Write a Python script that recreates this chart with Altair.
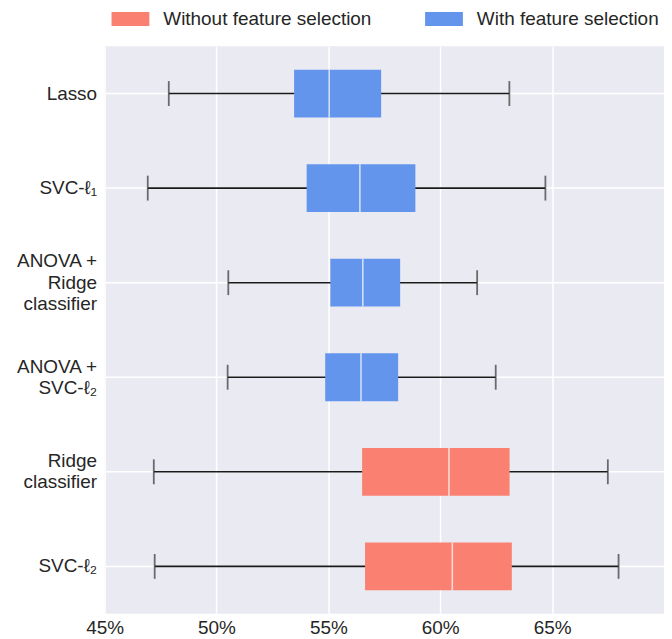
import altair as alt
import pandas as pd

methods = ["Lasso", "SVC-ℓ₁", "ANOVA +|Ridge|classifier", "ANOVA +|SVC-ℓ₂", "Ridge|classifier", "SVC-ℓ₂"]
groups = ["With feature selection"] * 4 + ["Without feature selection"] * 2
low = [47.87, 46.93, 50.53, 50.50, 47.20, 47.24]
q1 = [53.47, 54.03, 55.09, 54.86, 56.51, 56.64]
median = [55.04, 56.41, 56.54, 56.46, 60.39, 60.54]
q3 = [57.36, 58.89, 58.21, 58.12, 63.10, 63.20]
high = [63.09, 64.70, 61.65, 62.48, 67.49, 67.97]
x_ticks = [45, 50, 55, 60, 65]
legend_order = ["Without feature selection", "With feature selection"]
colors = ["#FA8072", "#6495ED"]

df = pd.DataFrame({"method": methods, "group": groups, "low": low, "q1": q1,
                   "median": median, "q3": q3, "high": high})

FONT = "Liberation Sans"
TXT = "#262626"

xscale = alt.Scale(domain=[45, 70], nice=False, zero=False)
yenc = alt.Y("method:N", sort=methods, scale=alt.Scale(paddingInner=0, paddingOuter=0),
             axis=alt.Axis(title=None, labelExpr="split(datum.label, '|')",
                           labelLineHeight=21.5, labelFontSize=19, labelPadding=8,
                           labelOffset={"expr": "-(length(split(datum.value, '|')) - 1) * 10.75"},
                           labelColor=TXT, labelFont=FONT, ticks=False, domain=False,
                           grid=True, gridColor="white", gridWidth=1.5, labelLimit=200))
xaxis = alt.Axis(title=None, values=x_ticks, labelExpr="datum.value + '%'",
                 labelFontSize=19, labelFont=FONT, labelColor=TXT, labelPadding=5,
                 labelFlush=False, labelBound=False, labelOverlap=False,
                 ticks=False, domain=False, grid=True, gridColor="white", gridWidth=1.5)

base = alt.Chart(df)

whisker = base.mark_rule(color="#1a1a1a", strokeWidth=1.6).encode(
    x=alt.X("low:Q", scale=xscale, axis=xaxis), x2="high:Q", y=yenc)

caps_lo = base.mark_tick(color="#333333", thickness=1.8, size=25, orient="vertical").encode(
    x=alt.X("low:Q", scale=xscale), y=alt.Y("method:N", sort=methods))
caps_hi = base.mark_tick(color="#333333", thickness=1.8, size=25, orient="vertical").encode(
    x=alt.X("high:Q", scale=xscale), y=alt.Y("method:N", sort=methods))

box = base.mark_bar(size=48).encode(
    x=alt.X("q1:Q", scale=xscale), x2="q3:Q", y=alt.Y("method:N", sort=methods),
    color=alt.Color("group:N",
                    scale=alt.Scale(domain=legend_order, range=colors),
                    legend=alt.Legend(title=None, orient="none", direction="horizontal",
                                      legendX=7, legendY=-46.5, padding=0,
                                      symbolType="M-1,-0.37H1V0.37H-1Z", symbolSize=1444,
                                      symbolStrokeWidth=0, symbolOpacity=1,
                                      labelFontSize=19, labelFont=FONT, labelColor=TXT,
                                      labelOffset=14, columnPadding=53, labelLimit=400)))

med = base.mark_tick(color="white", thickness=1.6, size=48, orient="vertical").encode(
    x=alt.X("median:Q", scale=xscale), y=alt.Y("method:N", sort=methods))

chart = alt.layer(whisker, caps_lo, caps_hi, box, med).properties(
    width=562, height=570,
    autosize=alt.AutoSizeParams(type="none"),
    padding={"left": 97, "top": 37, "right": 0, "bottom": 24},
).configure_view(fill="#EAEAF2", strokeWidth=0)

chart.save("out.html", embed_options={"renderer": "svg", "actions": False})
